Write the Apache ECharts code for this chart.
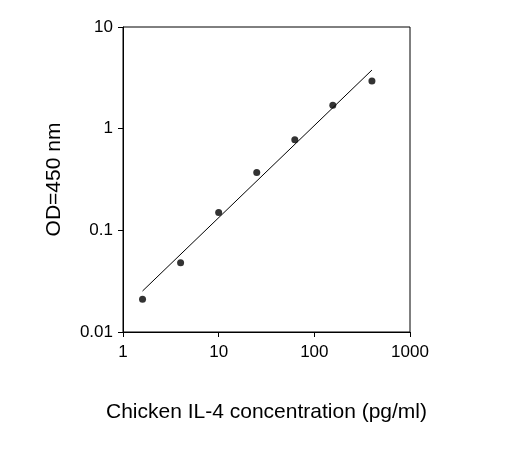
<!DOCTYPE html>
<html><head><meta charset="utf-8">
<script src="https://cdn.jsdelivr.net/npm/echarts@6/dist/echarts.min.js"></script>
<style>html,body{margin:0;padding:0;background:#fff}#c{width:515px;height:461px}</style>
</head><body><div id="c"></div>
<script>
const concentrations = [1.6, 4, 10, 25, 62.5, 156, 400];
const odValues = [0.021, 0.048, 0.15, 0.37, 0.78, 1.7, 2.95];
const fitX = [1.6, 400];
const fitY = [0.0253, 3.77];
const chart = echarts.init(document.getElementById('c'));
const font = {fontFamily: 'Liberation Sans, Arial', color: '#000'};
chart.setOption({
  animation: false,
  grid: {left: 123, top: 27, right: 105, bottom: 129, show: true, borderColor: '#000', borderWidth: 1},
  xAxis: {type: 'log', logBase: 10, min: 1, max: 1000,
    name: 'Chicken IL-4 concentration (pg/ml)', nameLocation: 'middle', nameGap: 70,
    nameTextStyle: {...font, fontSize: 21},
    axisLine: {lineStyle: {color: '#000'}}, axisTick: {lineStyle: {color: '#000'}, length: 5},
    axisLabel: {...font, fontSize: 17, margin: 12, formatter: v => String(+v.toPrecision(3))},
    splitLine: {show: false}, minorTick: {show: false}},
  yAxis: {type: 'log', logBase: 10, min: 0.01, max: 10,
    name: 'OD=450 nm', nameLocation: 'middle', nameGap: 58,
    nameTextStyle: {...font, fontSize: 21},
    axisLine: {show: true, lineStyle: {color: '#000'}}, axisTick: {show: true, lineStyle: {color: '#000'}, length: 5},
    axisLabel: {...font, fontSize: 17, margin: 10, formatter: v => String(+v.toPrecision(3))}, splitLine: {show: false}},
  series: [
    {type: 'line', data: fitX.map((x, i) => [x, fitY[i]]), showSymbol: false, symbol: 'none',
     lineStyle: {color: '#000', width: 1}},
    {type: 'scatter', data: concentrations.map((x, i) => [x, odValues[i]]), symbolSize: 7,
     itemStyle: {color: '#000'}}
  ]
});
</script></body></html>
